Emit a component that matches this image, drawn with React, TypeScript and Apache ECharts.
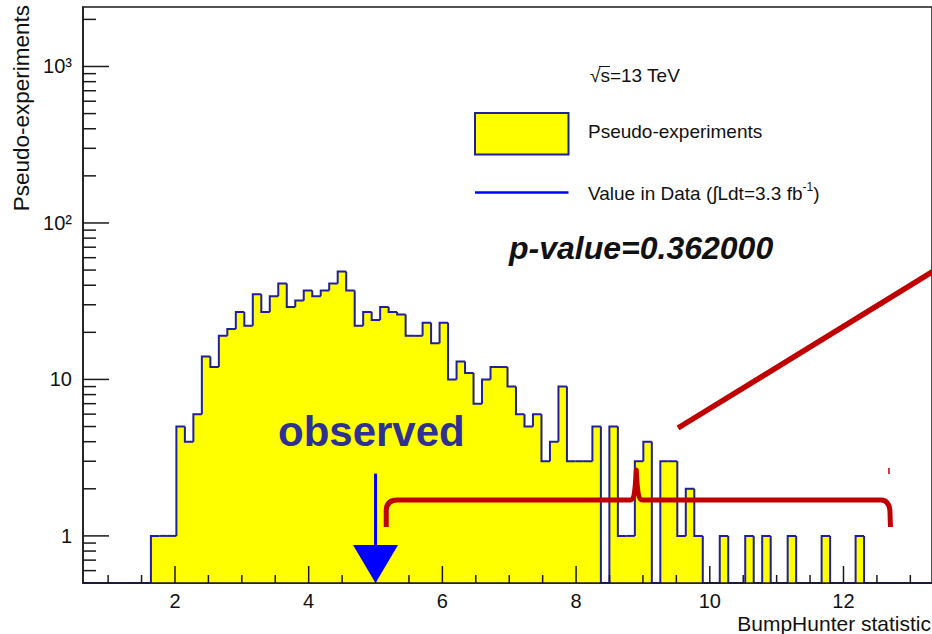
import React, { useEffect, useRef } from "react";
import * as echarts from "echarts";

// Histogram of the BumpHunter test statistic from pseudo-experiments
const X_MIN = 0.624;
const BIN_WIDTH = 0.127;
const Y_MIN = 0.5;
const Y_MAX = 2400;

const binCounts = [
  0, 0, 0, 0, 0, 0, 0, 0, 1, 1,
  1, 5, 4, 6, 14, 12, 19, 21, 27, 22,
  35, 27, 34, 41, 29, 32, 37, 34, 37, 41,
  49, 37, 22, 27, 24, 29, 27, 26, 19, 19,
  23, 17, 23, 10, 13, 11, 7, 10, 12, 12,
  9, 6, 5, 6, 3, 4, 9, 3, 3, 3,
  5, 0, 5, 1, 1, 3, 4, 0, 3, 3,
  1, 2, 1, 0, 0, 1, 0, 0, 1, 0,
  1, 0, 0, 1, 0, 0, 0, 1, 0, 0,
  0, 1, 0, 0, 0, 0, 0, 0, 0, 0,
];
const X_MAX = X_MIN + binCounts.length * BIN_WIDTH;

// Observed statistic in data and the annotated tail region
const OBSERVED_VALUE = 5.0;
const P_VALUE_TEXT = "p-value=0.362000";
const BRACE_FROM = 5.16;
const BRACE_TIP = 8.9;
const BRACE_TO = 12.68;

// Axis ticks and labels
const xMajorTicks = [2, 4, 6, 8, 10, 12];
const xMinorTicks = [1, 1.5, 2.5, 3, 3.5, 4.5, 5, 5.5, 6.5, 7, 7.5, 8.5, 9, 9.5, 10.5, 11, 11.5, 12.5, 13];
const yMajorTicks = [1, 10, 100, 1000];
const yTickLabels = ["1", "10", "10²", "10³"];
const yMinorTicks = [
  0.6, 0.7, 0.8, 0.9,
  2, 3, 4, 5, 6, 7, 8, 9,
  20, 30, 40, 50, 60, 70, 80, 90,
  200, 300, 400, 500, 600, 700, 800, 900,
  2000,
];

const FONT = '"Liberation Sans", Arial, Helvetica, sans-serif';
const FILL = "#ffff00";
const OUTLINE = "#20209a";
const RED = "#c00000";
const ARROW = "#0000ff";
const TOP_Z = 100;

export default function App() {
  const ref = useRef<HTMLDivElement | null>(null);

  useEffect(() => {
    if (!ref.current) return;
    const chart = echarts.init(ref.current, undefined, { renderer: "svg" });

    const bins = binCounts.map((c, i) => [
      X_MIN + i * BIN_WIDTH,
      X_MIN + (i + 1) * BIN_WIDTH,
      c,
      i > 0 ? binCounts[i - 1] : 0,
    ]);

    // tick kinds: 0 x-major, 1 x-minor, 2 y-major, 3 y-minor
    const tickLen = [17, 8, 26, 13];
    const ticks = [
      ...xMajorTicks.map((v) => [v, Y_MIN, 0]),
      ...xMinorTicks.map((v) => [v, Y_MIN, 1]),
      ...yMajorTicks.map((v) => [X_MIN, v, 2]),
      ...yMinorTicks.map((v) => [X_MIN, v, 3]),
    ];

    const option: any = {
      animation: false,
      backgroundColor: "#ffffff",
      grid: {
        left: 83,
        right: 0,
        top: 7,
        bottom: 51,
        show: true,
        borderColor: "#1a1a1a",
        borderWidth: 1.5,
      },
      xAxis: {
        type: "value",
        min: X_MIN,
        max: X_MAX,
        z: 10,
        splitLine: { show: false },
        axisLine: { show: true, onZero: false, lineStyle: { color: "#1a1a1a", width: 1.5 } },
        axisTick: { show: false },
        axisLabel: {
          customValues: xMajorTicks,
          margin: 8,
          fontSize: 20,
          lineHeight: 20,
          fontFamily: FONT,
          color: "#111111",
        },
      },
      yAxis: {
        type: "log",
        logBase: 10,
        min: Y_MIN,
        max: Y_MAX,
        z: 10,
        splitLine: { show: false },
        axisLine: { show: true, onZero: false, lineStyle: { color: "#1a1a1a", width: 1.5 } },
        axisTick: { show: false },
        axisLabel: {
          customValues: yMajorTicks,
          margin: 11,
          fontSize: 20,
          fontFamily: FONT,
          color: "#111111",
          formatter: (v: number) => {
            const i = yMajorTicks.findIndex((t) => Math.abs(t - v) / t < 1e-6);
            return i >= 0 ? yTickLabels[i] : "";
          },
        },
      },
      series: [
        {
          // yellow bin fill; each bin overlaps the next slightly so no seams show
          type: "custom",
          z: 2,
          encode: { x: 0, y: 2 },
          data: bins,
          renderItem: (_p: any, api: any) => {
            const c = api.value(2);
            if (!(c > 0)) return { type: "group", children: [] };
            const tl = api.coord([api.value(0), c]);
            const br = api.coord([api.value(1), Y_MIN]);
            return {
              type: "rect",
              shape: { x: tl[0], y: tl[1], width: br[0] - tl[0] + 0.9, height: br[1] - tl[1] },
              style: { fill: FILL },
            };
          },
        },
        {
          // histogram outline (steps)
          type: "custom",
          z: 3,
          encode: { x: 0, y: 2 },
          data: bins,
          renderItem: (_p: any, api: any) => {
            const l = api.value(0);
            const r = api.value(1);
            const c = api.value(2) > 0 ? api.value(2) : Y_MIN;
            const pc = api.value(3) > 0 ? api.value(3) : Y_MIN;
            return {
              type: "polyline",
              shape: { points: [api.coord([l, pc]), api.coord([l, c]), api.coord([r, c])] },
              style: { stroke: OUTLINE, lineWidth: 2, fill: null },
            };
          },
        },
        {
          // axis tick marks, drawn above the histogram
          type: "custom",
          z: 12,
          encode: { x: 0, y: 1 },
          data: ticks,
          renderItem: (_p: any, api: any) => {
            const kind = api.value(2);
            const p = api.coord([api.value(0), api.value(1)]);
            const len = tickLen[kind];
            const shape =
              kind < 2
                ? { x1: p[0], y1: p[1], x2: p[0], y2: p[1] - len }
                : { x1: p[0], y1: p[1], x2: p[0] + len, y2: p[1] };
            return { type: "line", shape, style: { stroke: "#1a1a1a", lineWidth: 1.5 } };
          },
        },
      ],
    };
    chart.setOption(option);

    const px = (x: number, y: number) =>
      chart.convertToPixel({ gridIndex: 0 }, [x, y]) as number[];

    const [ax, axisBottom] = px(OBSERVED_VALUE, Y_MIN);
    const arrowTop = px(OBSERVED_VALUE, 2.5)[1];
    const headTop = px(OBSERVED_VALUE, 0.875)[1];

    const xl = px(BRACE_FROM, 1)[0];
    const xt = px(BRACE_TIP, 1)[0];
    const xr = px(BRACE_TO, 1)[0];
    const yH = 500;
    const yEnd = 527;
    const yPeak = 470;
    const braceD =
      `M ${xl} ${yEnd} L ${xl} ${yH + 11} Q ${xl} ${yH} ${xl + 11} ${yH} ` +
      `L ${xt - 6} ${yH} C ${xt - 2} ${yH} ${xt - 1} ${yH - 10} ${xt} ${yPeak} ` +
      `C ${xt + 1} ${yH - 10} ${xt + 2} ${yH} ${xt + 6} ${yH} ` +
      `L ${xr - 8} ${yH} Q ${xr} ${yH} ${xr + 1} ${yH + 11} L ${xr + 1.5} ${yEnd}`;
    echarts.graphic.registerShape("tailBrace", echarts.graphic.extendPath(braceD, {}) as any);

    const text = (x: number, y: number, t: string, extra: any = {}) => ({
      type: "text",
      z: TOP_Z,
      x,
      y,
      style: {
        text: t,
        fontFamily: FONT,
        fontSize: 19,
        fill: "#111111",
        align: "left",
        verticalAlign: "middle",
        ...extra,
      },
    });

    chart.setOption({
      graphic: [
        // axis titles
        {
          type: "text",
          z: TOP_Z,
          x: 21,
          y: 5,
          rotation: Math.PI / 2,
          style: {
            text: "Pseudo-experiments",
            fontFamily: FONT,
            fontSize: 22.5,
            fill: "#111111",
            align: "right",
            verticalAlign: "middle",
          },
        },
        text(931, 623, "BumpHunter statistic", { fontSize: 21, lineHeight: 21, align: "right" }),
        // legend
        text(590, 75, "√s=13 TeV"),
        {
          type: "line",
          z: TOP_Z,
          shape: { x1: 599, y1: 66.5, x2: 610, y2: 66.5 },
          style: { stroke: "#111111", lineWidth: 1 },
        },
        {
          type: "rect",
          z: TOP_Z,
          shape: { x: 475, y: 113, width: 93.5, height: 41.5 },
          style: { fill: FILL, stroke: OUTLINE, lineWidth: 2 },
        },
        text(588, 131.5, "Pseudo-experiments"),
        {
          type: "line",
          z: TOP_Z,
          shape: { x1: 475, y1: 192.5, x2: 568.5, y2: 192.5 },
          style: { stroke: ARROW, lineWidth: 2.5 },
        },
        {
          type: "text",
          z: TOP_Z,
          x: 588,
          y: 193,
          style: {
            text: "{a|Value in Data (∫Ldt=3.3 fb}{s|-1}{a|)}",
            fontFamily: FONT,
            fill: "#111111",
            align: "left",
            verticalAlign: "middle",
            rich: {
              a: { fontSize: 19, fontFamily: FONT, lineHeight: 24, verticalAlign: "middle", fill: "#111111" },
              s: { fontSize: 12, fontFamily: FONT, lineHeight: 14, verticalAlign: "top", fill: "#111111" },
            },
          },
        },
        text(509, 248, P_VALUE_TEXT, { fontSize: 32, fontWeight: "bold", fontStyle: "italic" }),
        // observed value marker
        text(278, 431, "observed", { fontSize: 42, fontWeight: "bold", fill: "#2e3192" }),
        {
          type: "line",
          z: TOP_Z,
          shape: { x1: ax, y1: arrowTop, x2: ax, y2: headTop },
          style: { stroke: ARROW, lineWidth: 3 },
        },
        {
          type: "polygon",
          z: TOP_Z,
          shape: { points: [[ax - 22.5, headTop], [ax + 22.5, headTop], [ax, axisBottom]] },
          style: { fill: ARROW },
        },
        // tail region annotation
        {
          type: "tailBrace",
          z: TOP_Z,
          style: { stroke: RED, lineWidth: 5, fill: "none", lineJoin: "round" },
        },
        {
          type: "line",
          z: TOP_Z,
          shape: { x1: 678, y1: 428, x2: 945, y2: 264 },
          style: { stroke: RED, lineWidth: 5.5 },
        },
        {
          type: "line",
          z: TOP_Z,
          shape: { x1: xr, y1: 468, x2: xr, y2: 474 },
          style: { stroke: RED, lineWidth: 1.5 },
        },
      ],
    });

    return () => chart.dispose();
  }, []);

  return (
    <div
      ref={ref}
      style={{ position: "absolute", left: 0, top: 0, width: 932, height: 634 }}
    />
  );
}
